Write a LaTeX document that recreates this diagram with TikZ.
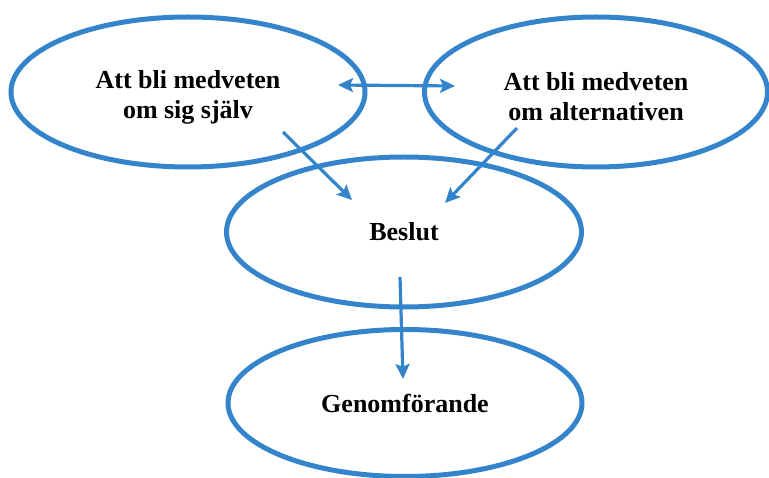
\documentclass[tikz,border=0pt]{standalone}
\usepackage{fontspec}
\setmainfont{Liberation Serif}
\usetikzlibrary{shapes.geometric,arrows.meta}
\definecolor{ringblue}{RGB}{52,132,204}
\tikzset{
  oval/.style={ellipse, draw=ringblue, line width=5pt, inner sep=0pt,
    font=\fontsize{26}{30}\selectfont\bfseries, align=center, text=black},
  twoline/.style={text height=58pt},
  flow/.style={draw=ringblue, line width=3.2pt,
    -{Stealth[length=15pt,width=14pt,inset=3pt]}},
  biflow/.style={draw=ringblue, line width=3.2pt,
    {Stealth[length=15pt,width=14pt,inset=3pt]}-{Stealth[length=15pt,width=14pt,inset=3pt]}}
}
\begin{document}
\begin{tikzpicture}[x=1pt,y=-1pt]
\useasboundingbox (0,0) rectangle (769,478);
\node[oval, twoline, minimum width=354, minimum height=150] (self) at (188,92) {Att bli medveten\\om sig själv};
\node[oval, twoline, minimum width=343, minimum height=150] (alt) at (596,92) {Att bli medveten\\om alternativen};
\node[oval, minimum width=355, minimum height=150] (beslut) at (404,232) {Beslut};
\node[oval, minimum width=354, minimum height=147] (gen) at (405,403) {Genomförande};
\coordinate (dL) at (338,85);
\coordinate (dR) at (455,86);
\coordinate (s1) at (283,132);
\coordinate (t1) at (352,200);
\coordinate (s2) at (517,128);
\coordinate (t2) at (445,203);
\coordinate (s3) at (400,277);
\coordinate (t3) at (403,379);
\draw[biflow] (dL) -- (dR);
\draw[flow] (s1) -- (t1);
\draw[flow] (s2) -- (t2);
\draw[flow] (s3) -- (t3);
\end{tikzpicture}
\end{document}
